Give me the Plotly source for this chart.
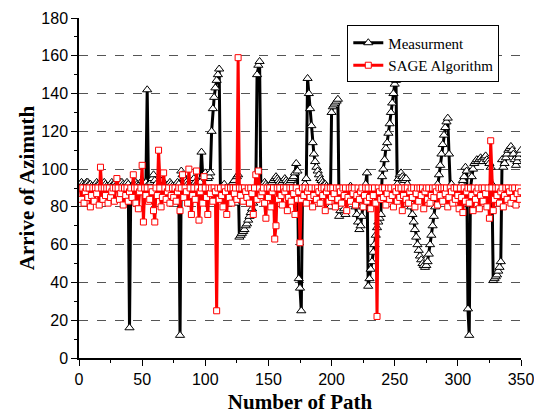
import plotly.graph_objects as go

path = list(range(1, 351))

measurement = [
    92, 93, 92, 91, 92, 93, 93, 92, 92, 91, 90, 91, 92, 93, 92, 92, 91, 92, 92, 93,
    92, 91, 90, 91, 92, 93, 92, 92, 93, 92, 91, 92, 93, 93, 92, 91, 92, 93, 92,
    16,
    90, 91, 92, 93, 93, 92, 91, 92, 93, 94, 93, 92, 93,
    142,
    92, 91, 93, 95, 97, 94, 92, 90, 88, 92, 93, 94, 92, 91, 90, 91, 92, 93, 92, 91,
    90, 91, 92, 93, 92,
    12,
    99, 97, 95, 94, 93, 92, 91, 92, 93, 94, 95, 93, 92, 91, 92, 93,
    109,
    96, 97, 98, 96, 95, 96, 98,
    120, 132, 138, 143, 147, 150, 153,
    88, 90, 91, 92, 90, 89, 88, 90, 91, 92, 93, 94,
    82, 96, 97,
    64, 65, 66, 67, 68, 70, 71, 73, 75, 77, 79, 82, 85,
    90, 150, 155, 157, 90,
    91, 92, 93, 92, 91, 90, 91, 92, 93, 94, 95, 96, 95, 94, 93, 92, 93, 94, 95, 94,
    93, 92, 93, 94, 95, 96, 98,
    103, 99, 42, 37, 25,
    88, 90, 92, 95,
    148, 140, 132, 123, 114, 108, 104, 101, 99, 97, 95, 94, 93, 92, 92, 91, 90, 88,
    80, 130, 133, 134, 135, 136, 137,
    75, 78, 80, 82, 79, 76, 84, 88, 90, 91, 90, 88, 84,
    80, 76, 72, 68, 70, 75, 82, 88, 92, 98,
    38, 42, 47, 51, 56, 60, 65, 69, 72, 74, 76,
    96, 100, 105, 111, 114, 119, 124, 130, 135, 140, 145, 147,
    92, 95, 97, 98, 96, 95, 94, 95,
    92, 88, 84, 80, 76, 72, 68, 64, 60, 57, 54, 52, 50, 49, 48, 49, 51, 55, 60, 65,
    70, 75, 80, 86, 92, 97, 102, 108, 113, 118, 122, 125, 127,
    108, 91,
    92, 90, 88, 86, 85, 87, 89, 90, 92, 94, 96,
    101, 99, 26, 12,
    90, 96, 100, 103, 104, 105, 104, 105, 106, 105, 104, 106, 107, 105, 104, 103, 101,
    92, 41, 42, 43, 44, 46, 48, 51,
    105, 101, 103, 106, 108, 110, 111, 112, 110, 108, 105, 102, 104, 106, 108, 110,
]

sage = [
    90, 84, 90, 82, 88, 90, 85, 90, 80, 86,
    90, 83, 90, 87, 90, 81, 101, 90, 84, 90,
    86, 90, 82, 90, 85, 88, 90, 83, 90, 95,
    90, 84, 87, 90, 81, 90, 86, 90, 83, 88,
    90, 85, 97, 90, 82, 90, 79, 88, 90, 102,
    72, 90, 86, 90, 83, 84, 90, 88, 78, 72,
    90, 86, 110, 90, 80, 85, 98, 90, 84, 88,
    90, 82, 86, 90, 85, 90, 83, 88, 90, 78,
    90, 97, 85, 90, 88, 82, 100, 90, 76, 86,
    90, 84, 99, 90, 73, 88, 90, 82, 96, 90,
    85, 76, 90, 87, 90, 83, 90, 88, 25, 90,
    84, 90, 86, 80, 90, 88, 76, 90, 85, 90,
    82, 90, 87, 90, 84, 159, 90, 86, 90, 83,
    90, 88, 85, 90, 82, 90, 87, 76, 90, 97,
    84, 99, 90, 86, 88, 90, 82, 74, 90, 85,
    90, 80, 88, 90, 63, 70, 90, 84, 90, 86,
    81, 90, 88, 90, 78, 85, 90, 83, 90, 87,
    76, 90, 84, 88, 61, 84, 90, 86, 90, 82,
    88, 90, 85, 90, 80, 86, 90, 84, 90, 88,
    82, 90, 86, 90, 78, 88, 90, 83, 90, 85,
    90, 87, 80, 90, 84, 90, 88, 82, 90, 86,
    90, 78, 85, 90, 83, 90, 87, 90, 81, 86,
    90, 84, 88, 90, 80, 86, 90, 83, 90, 85,
    79, 90, 86, 90, 82, 22, 90, 88, 84, 90,
    85, 90, 81, 87, 90, 84, 90, 86, 80, 90,
    88, 83, 90, 85, 90, 78, 86, 90, 84, 90,
    82, 88, 90, 85, 90, 80, 87, 90, 83, 90,
    86, 90, 79, 88, 90, 84, 90, 82, 86, 90,
    85, 90, 88, 81, 90, 86, 90, 83, 90, 87,
    90, 80, 85, 90, 88, 82, 90, 84, 90, 86,
    79, 90, 85, 77, 90, 83, 88, 90, 82, 90,
    86, 78, 90, 84, 88, 90, 79, 86, 90, 83,
    90, 87, 80, 90, 74, 115, 90, 78, 84, 90,
    86, 90, 82, 88, 90, 80, 86, 90, 84, 90,
    88, 82, 90, 85, 90, 81, 87, 90, 84, 88,
]

x_ticks = [0, 50, 100, 150, 200, 250, 300, 350]
y_ticks = [0, 20, 40, 60, 80, 100, 120, 140, 160, 180]

fig = go.Figure()
fig.add_trace(go.Scatter(
    x=path[:len(measurement)], y=measurement, name="Measurment", mode="lines+markers",
    line=dict(color="black", width=3),
    marker=dict(symbol="triangle-up", size=8, color="white",
                line=dict(color="black", width=1)),
))
fig.add_trace(go.Scatter(
    x=path[:len(sage)], y=sage, name="SAGE Algorithm", mode="lines+markers",
    line=dict(color="#ff0000", width=3),
    marker=dict(symbol="square", size=6, color="white",
                line=dict(color="#ff0000", width=1)),
))

tickfont = dict(family="Liberation Sans, Arial, sans-serif", size=16, color="black")
titlefont = dict(family="Liberation Serif, Times New Roman, serif", size=21, color="black")

fig.update_layout(
    width=542, height=418,
    margin=dict(l=71, r=29, t=10, b=68),
    paper_bgcolor="white", plot_bgcolor="white",
    showlegend=True,
    legend=dict(x=0.607, y=0.978, xanchor="left", yanchor="top",
                bordercolor="black", borderwidth=1, bgcolor="white",
                font=dict(family="Liberation Serif, Times New Roman, serif", size=15, color="black"),
                tracegroupgap=0, itemwidth=30),
    xaxis=dict(range=[0, 350], tickvals=x_ticks, ticks="outside", ticklen=6, tickwidth=1,
               tickcolor="black", showline=True, linecolor="black", linewidth=1.5,
               showgrid=False, zeroline=False, tickfont=tickfont, automargin=False,
               minor=dict(dtick=25, tick0=0, ticks="outside", ticklen=3, tickcolor="black"),
               title=dict(text="<b>Number of Path</b>", font=titlefont, standoff=7)),
    yaxis=dict(range=[0, 180], tickvals=y_ticks, ticks="outside", ticklen=6, tickwidth=1,
               tickcolor="black", showline=True, linecolor="black", linewidth=1.5,
               showgrid=True, gridcolor="#555555", griddash="dash", gridwidth=0.8,
               zeroline=False, tickfont=tickfont, automargin=False,
               minor=dict(dtick=10, tick0=0, ticks="outside", ticklen=3, tickcolor="black"),
               title=dict(text="<b>Arrive of Azimuth</b>", font=titlefont, standoff=1)),
    xaxis2=dict(range=[0, 350], overlaying="x", side="top", anchor="y", tickvals=x_ticks,
                ticks="inside", ticklen=6, tickcolor="black", showticklabels=False,
                showline=True, linecolor="black", linewidth=1.5, showgrid=False, zeroline=False,
                automargin=False,
                minor=dict(dtick=25, tick0=0, ticks="inside", ticklen=3, tickcolor="black")),
    yaxis2=dict(range=[0, 180], overlaying="y", side="right", anchor="x", tickvals=y_ticks,
                ticks="inside", ticklen=6, tickcolor="black", showticklabels=False,
                showline=True, linecolor="black", linewidth=1.5, showgrid=False, zeroline=False,
                automargin=False,
                minor=dict(dtick=10, tick0=0, ticks="inside", ticklen=3, tickcolor="black")),
)

fig.write_html("out.html")
